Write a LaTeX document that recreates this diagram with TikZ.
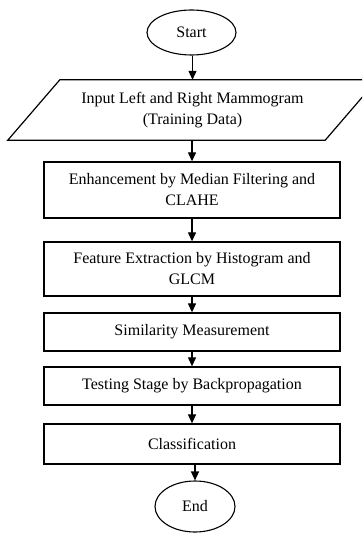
\documentclass[tikz,border=0pt]{standalone}
\usepackage{fontspec}
\setmainfont{Liberation Serif}
\usetikzlibrary{calc}
\usetikzlibrary{arrows.meta}
\usetikzlibrary{shapes.geometric}
\tikzset{
  terminal/.style={draw, ellipse, line width=1.1pt, minimum width=89pt, minimum height=45pt, inner sep=0pt},
  procbox/.style={draw, rectangle, line width=1.3pt, minimum width=296pt, align=center, inner sep=0pt},
  flowarrow/.style={-{Triangle[length=9pt,width=8pt]}, line width=1.2pt},
}

\begin{document}
\begin{tikzpicture}[x=1pt,y=-1pt, font=\fontsize{16}{21}\selectfont]
    \useasboundingbox (0,0) rectangle (362,534);
    \clip (0,0) rectangle (362,534);

    \node[terminal] (start) at (191.5,32.5) {Start};
    \node[minimum width=265pt, minimum height=60pt, align=center, inner sep=0pt] (input) at (192.5,110) {Input Left and Right Mammogram\\(Training Data)};
    \draw[line width=1.2pt] (input.north west) -- ($(input.north east)+(52,0)$) -- (input.south east) -- ($(input.south west)+(-52,0)$) -- cycle;

    \node[procbox, minimum height=56pt] (enhance) at (192,190) {Enhancement by Median Filtering and\\CLAHE};
    \node[procbox, minimum height=54pt] (feature) at (192,269) {Feature Extraction by Histogram and\\GLCM};
    \node[procbox, minimum height=38pt] (similar) at (192,332) {Similarity Measurement};
    \node[procbox, minimum height=38pt] (testing) at (192,386) {Testing Stage by Backpropagation};
    \node[procbox, minimum height=40pt] (classify) at (192,444) {Classification};
    \node[terminal, minimum width=80pt, minimum height=51pt] (end) at (195,506.5) {End};

    \foreach \a/\b in {start/input, input/enhance, enhance/feature, feature/similar, similar/testing, testing/classify, classify/end}
      \draw[flowarrow] (\b.north |- \a.south) -- (\b.north);
  \end{tikzpicture}
\end{document}
